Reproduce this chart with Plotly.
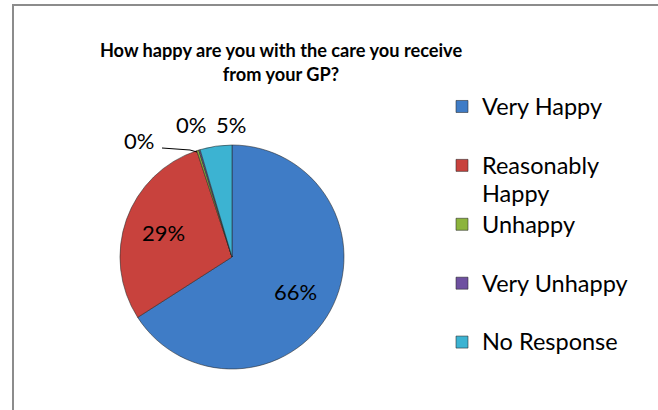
import math
import plotly.graph_objects as go

categories = ["Very Happy", "Reasonably Happy", "Unhappy", "Very Unhappy", "No Response"]
legend_lines = [["Very Happy", " "], ["Reasonably", "Happy"], ["Unhappy", " "], ["Very Unhappy", " "], ["No Response", " "]]
values = [66, 29, 0.3, 0.2, 4.6]
colors = ["#3F7CC6", "#C8423D", "#8CB43C", "#6E50A0", "#3CB3D2"]

FONT = "Lato, Carlito, 'Liberation Sans', sans-serif"
total = sum(values)
pct_text = [f"{round(v / total * 100):.0f}%" for v in values]
legend_labels = ["<br>".join(f"<span style='font-size:23.5px'>{ln}</span>" for ln in lines)
                 for lines in legend_lines]

W, H = 658, 410
CX, CY, R = 232, 257, 112


def px(x):
    return x / W


def py(y):
    return 1 - y / H


fig = go.Figure()
fig.add_trace(go.Pie(
    labels=legend_labels,
    values=values,
    sort=False,
    direction="clockwise",
    rotation=0,
    marker=dict(colors=colors, line=dict(color="rgba(40,40,40,0.7)", width=0.8)),
    textinfo="none",
    domain=dict(x=[px(CX - R), px(CX + R)], y=[py(CY + R), py(CY - R)]),
    hoverinfo="percent",
    showlegend=True,
))

lab_font = dict(family=FONT, size=22, color="#000")

# inside labels for the two large slices, at the slice mid-angle
cum = 0
for i, v in enumerate(values):
    mid = (cum + v / 2) / total * 2 * math.pi
    cum += v
    if i < 2:
        lx = CX + 0.65 * R * math.sin(mid)
        ly = CY - 0.65 * R * math.cos(mid)
        fig.add_annotation(text=pct_text[i], x=px(lx), y=py(ly), xref="paper", yref="paper",
                           xanchor="center", yanchor="middle", showarrow=False, font=lab_font)

# labels for the very small slices (placed outside like the original)
fig.add_annotation(text=pct_text[2], x=px(139), y=py(140), xref="paper", yref="paper",
                   xanchor="center", yanchor="middle", showarrow=False, font=lab_font)
fig.add_annotation(text=pct_text[3], x=px(191), y=py(124), xref="paper", yref="paper",
                   xanchor="center", yanchor="middle", showarrow=False, font=lab_font)
fig.add_annotation(text=pct_text[4], x=px(231), y=py(124), xref="paper", yref="paper",
                   xanchor="center", yanchor="middle", showarrow=False, font=lab_font)
# leader line for the left 0% label
fig.add_shape(type="path", xref="paper", yref="paper",
              path=f"M {px(162)},{py(148)} L {px(190)},{py(150)} L {px(197)},{py(152)}",
              line=dict(color="#000000", width=1))

# chart frame
fig.add_shape(type="rect", xref="paper", yref="paper",
              x0=px(13), x1=1.1, y0=-0.1, y1=py(5),
              line=dict(color="#8c8c8c", width=2), fillcolor="rgba(0,0,0,0)", layer="below")

fig.update_layout(
    width=W, height=H,
    margin=dict(l=0, r=0, t=0, b=0),
    paper_bgcolor="#ffffff",
    plot_bgcolor="#ffffff",
    title=dict(
        text="<b>How happy are you with the care you receive<br>from your GP?</b>",
        x=px(281), xanchor="center", xref="paper",
        y=py(57), yanchor="top", yref="paper",
        font=dict(family=FONT, size=18.2, color="#000000"),
    ),
    legend=dict(
        x=px(442), xanchor="left",
        y=py(86), yanchor="top",
        font=dict(family=FONT, size=21.5, color="#000000"),
        valign="top",
        bgcolor="rgba(0,0,0,0)",
        traceorder="normal",
    ),
)

fig.write_html("out.html", config={"displayModeBar": False},
               post_script="document.body.style.margin='0px';")
